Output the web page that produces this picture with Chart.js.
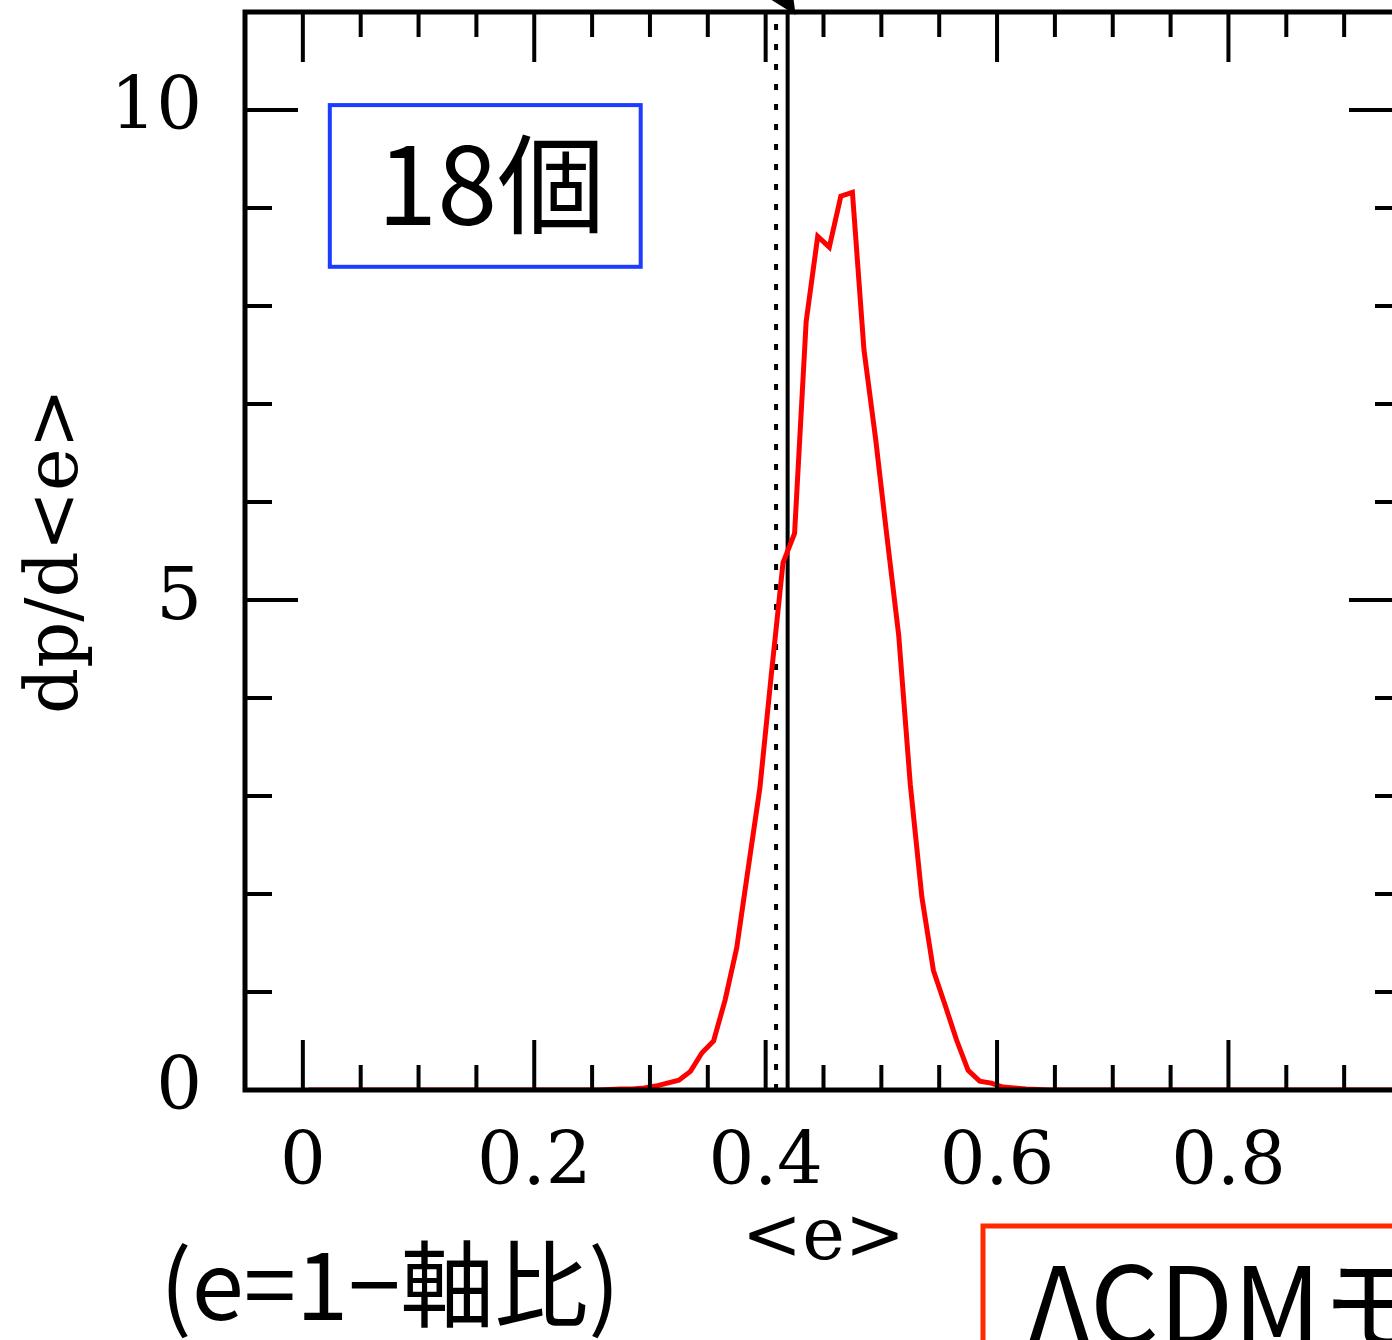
<!DOCTYPE html>
<html>
<head>
<meta charset="utf-8">
<script src="https://cdn.jsdelivr.net/npm/chart.js@4.4.0/dist/chart.umd.min.js"></script>
<style>
html, body { margin: 0; padding: 0; background: #fff; overflow: hidden; }
canvas { display: block; }
</style>
</head>
<body>
<canvas id="eChart" width="1440" height="1340"></canvas>
<script>
// bin centres of <e> and the probability density dp/d<e>
var binCenters = [
    0.005, 0.015, 0.025, 0.035, 0.045, 0.055, 0.065, 0.075, 0.085, 0.095,
    0.105, 0.115, 0.125, 0.135, 0.145, 0.155, 0.165, 0.175, 0.185, 0.195,
    0.205, 0.215, 0.225, 0.235, 0.245, 0.255, 0.265, 0.275, 0.285, 0.295,
    0.305, 0.315, 0.325, 0.335, 0.345, 0.355, 0.365, 0.375, 0.385, 0.395,
    0.405, 0.415, 0.425, 0.435, 0.445, 0.455, 0.465, 0.475, 0.485, 0.495,
    0.505, 0.515, 0.525, 0.535, 0.545, 0.555, 0.565, 0.575, 0.585, 0.595,
    0.605, 0.615, 0.625, 0.635, 0.645, 0.655, 0.665, 0.675, 0.685, 0.695,
    0.705, 0.715, 0.725, 0.735, 0.745, 0.755, 0.765, 0.775, 0.785, 0.795,
    0.805, 0.815, 0.825, 0.835, 0.845, 0.855, 0.865, 0.875, 0.885, 0.895,
    0.905, 0.915, 0.925, 0.935, 0.945
];
var density = [
    0, 0, 0, 0, 0, 0, 0, 0, 0, 0,
    0, 0, 0, 0, 0, 0, 0, 0, 0, 0,
    0, 0, 0, 0, 0, 0, 0.005, 0.01, 0.01, 0.02,
    0.04, 0.07, 0.10, 0.19, 0.38, 0.50, 0.92, 1.45, 2.27, 3.08,
    4.25, 5.38, 5.68, 7.84, 8.71, 8.60, 9.12, 9.16, 7.55, 6.65,
    5.63, 4.64, 3.12, 1.97, 1.22, 0.87, 0.51, 0.20, 0.09, 0.07,
    0.03, 0.02, 0.01, 0.005, 0, 0, 0, 0, 0, 0,
    0, 0, 0, 0, 0, 0, 0, 0, 0, 0,
    0, 0, 0, 0, 0, 0, 0, 0, 0, 0,
    0, 0, 0, 0, 0
];

// observed mean values (dotted / solid markers)
var meanDotted = 0.409;
var meanSolid = 0.419;

var xMin = -0.05, xMax = 0.95;
var yMin = 0, yMax = 11;
var xMajorTicks = [0, 0.2, 0.4, 0.6, 0.8];
var xMinorTicks = [0.05, 0.1, 0.15, 0.25, 0.3, 0.35, 0.45, 0.5, 0.55, 0.65, 0.7, 0.75, 0.85, 0.9];
var yMajorTicks = [0, 5, 10];
var yMinorTicks = [1, 2, 3, 4, 6, 7, 8, 9];

var serif = "'DejaVu Serif', 'Liberation Serif', serif";
var jp = "'Noto Sans CJK JP', 'Noto Sans', sans-serif";

// frame, inward ticks and the text boxes, drawn over the curve
var framePlugin = {
    id: 'frame',
    afterDatasetsDraw: function(chart) {
        var ctx = chart.ctx, a = chart.chartArea;
        var xs = chart.scales.x, ys = chart.scales.y;
        ctx.save();
        ctx.strokeStyle = '#000';
        ctx.lineWidth = 5;
        ctx.strokeRect(a.left, a.top, a.right - a.left, a.bottom - a.top);

        function seg(x1, y1, x2, y2) {
            ctx.beginPath(); ctx.moveTo(x1, y1); ctx.lineTo(x2, y2); ctx.stroke();
        }
        ctx.lineWidth = 4;
        xMajorTicks.forEach(function(v) {
            var p = xs.getPixelForValue(v);
            seg(p, a.bottom, p, a.bottom - 50);
            seg(p, a.top, p, a.top + 50);
        });
        xMinorTicks.forEach(function(v) {
            var p = xs.getPixelForValue(v);
            seg(p, a.bottom, p, a.bottom - 25);
            seg(p, a.top, p, a.top + 25);
        });
        yMajorTicks.forEach(function(v) {
            var p = ys.getPixelForValue(v);
            seg(a.left, p, a.left + 53, p);
            seg(a.right, p, a.right - 53, p);
        });
        yMinorTicks.forEach(function(v) {
            var p = ys.getPixelForValue(v);
            seg(a.left, p, a.left + 27, p);
            seg(a.right, p, a.right - 27, p);
        });

        // arrow head at the top of the solid mean line
        var sx = xs.getPixelForValue(meanSolid);
        ctx.fillStyle = '#000';
        ctx.beginPath();
        ctx.moveTo(sx - 16, a.top - 12);
        ctx.lineTo(sx + 6, a.top - 12);
        ctx.lineTo(sx + 8, a.top + 3);
        ctx.closePath();
        ctx.fill();

        // sample size box
        var bx1 = xs.getPixelForValue(0.0233), bx2 = xs.getPixelForValue(0.292);
        var by1 = ys.getPixelForValue(10.05), by2 = ys.getPixelForValue(8.40);
        ctx.strokeStyle = '#1e3cff';
        ctx.lineWidth = 4;
        ctx.strokeRect(bx1, by1, bx2 - bx1, by2 - by1);
        ctx.fillStyle = '#000';
        ctx.font = '400 108px ' + jp;
        ctx.textAlign = 'center';
        ctx.textBaseline = 'middle';
        ctx.fillText('18個', (bx1 + bx2) / 2 + 6, (by1 + by2) / 2 - 2);

        // definition note below the axis
        ctx.textAlign = 'left';
        ctx.textBaseline = 'alphabetic';
        ctx.font = '400 94px ' + jp;
        ctx.fillText('(e=1\u2212軸比)', 160, 1320);

        // model box, running off the right edge
        ctx.strokeStyle = '#ff2a00';
        ctx.lineWidth = 5;
        ctx.strokeRect(983, 1226, 600, 300);
        ctx.font = '400 108px ' + jp;
        ctx.fillText('ΛCDMモデル', 1028, 1345);
        ctx.restore();
    }
};

var ctx = document.getElementById('eChart').getContext('2d');

new Chart(ctx, {
    type: 'scatter',
    data: {
        datasets: [{
            label: 'dp/d<e>',
            data: binCenters.map(function(e, i) { return {x: e, y: density[i]}; }),
            showLine: true,
            borderColor: '#ff0000',
            borderWidth: 5,
            pointRadius: 0,
            tension: 0
        }, {
            label: 'mean (dotted)',
            data: [{x: meanDotted, y: yMin}, {x: meanDotted, y: yMax}],
            showLine: true,
            borderColor: '#000',
            borderWidth: 4,
            borderDash: [6, 14],
            pointRadius: 0
        }, {
            label: 'mean (solid)',
            data: [{x: meanSolid, y: yMin}, {x: meanSolid, y: yMax}],
            showLine: true,
            borderColor: '#000',
            borderWidth: 4,
            pointRadius: 0
        }]
    },
    options: {
        responsive: false,
        animation: false,
        devicePixelRatio: 1,
        layout: { padding: { top: 12, right: 38, left: 0, bottom: 0 } },
        plugins: { legend: { display: false }, tooltip: { enabled: false } },
        scales: {
            x: {
                type: 'linear',
                min: xMin,
                max: xMax,
                afterBuildTicks: function(s) {
                    s.ticks = xMajorTicks.map(function(v) { return {value: v}; });
                },
                afterFit: function(s) {
                    s.height = 250;
                    s.paddingLeft = 0;
                    s.paddingRight = 0;
                },
                grid: { display: false, drawTicks: false },
                border: { display: false },
                ticks: {
                    color: '#000',
                    padding: 32,
                    maxRotation: 0,
                    autoSkip: false,
                    font: { family: serif, size: 72 },
                    callback: function(v) { return String(v); }
                },
                title: {
                    display: true,
                    text: '<e>',
                    color: '#000',
                    font: { family: serif, size: 72 },
                    padding: { top: 0, bottom: 57 }
                }
            },
            y: {
                type: 'linear',
                min: yMin,
                max: yMax,
                afterBuildTicks: function(s) {
                    s.ticks = yMajorTicks.map(function(v) { return {value: v}; });
                },
                afterFit: function(s) {
                    s.width = 245;
                    s.paddingTop = 0;
                    s.paddingBottom = 0;
                },
                grid: { display: false, drawTicks: false },
                border: { display: false },
                ticks: {
                    color: '#000',
                    padding: 43,
                    autoSkip: false,
                    font: { family: serif, size: 72 },
                    callback: function(v) { return String(v); }
                },
                title: {
                    display: true,
                    text: 'dp/d<e>',
                    color: '#000',
                    font: { family: serif, size: 72 },
                    padding: { top: 15, bottom: 0 }
                }
            }
        }
    },
    plugins: [framePlugin]
});
</script>
</body>
</html>
